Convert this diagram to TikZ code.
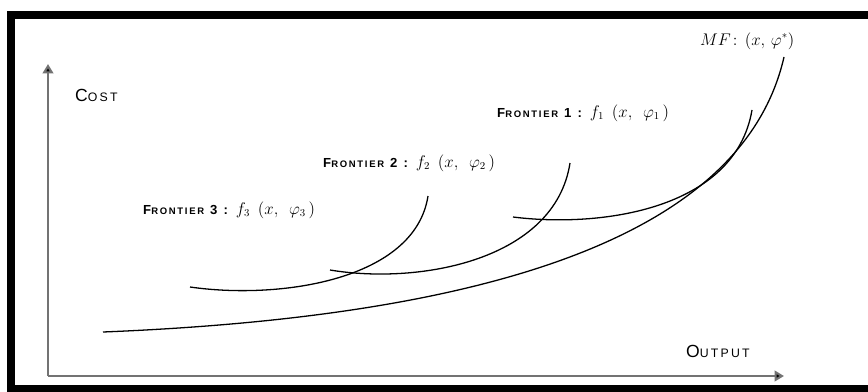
\documentclass[tikz,border=0pt]{standalone}
\usepackage{amsmath, amssymb}
\usepackage{fontspec}
\newfontfamily\capfont[LetterSpace=18]{Liberation Sans}
\usepackage{tikz}
\usetikzlibrary{arrows.meta, positioning, calc}

% fake small caps: first letter full size, rest smaller
\newcommand\bigsc[2]{{\fontsize{15}{17}\selectfont #1\fontsize{10.5}{12}\selectfont #2}}
\newcommand\smallsc[2]{{\fontsize{11.2}{13}\selectfont #1\fontsize{8.1}{9}\selectfont #2}}
\newcommand\eqn[1]{{\fontsize{13.5}{15}\selectfont $#1$}}

\tikzset{
  axis/.style={draw=black!55, line width=1.8pt, -{Triangle[length=8pt,width=9pt,fill=black]}},
  frontier/.style={line width=1.1pt},
  lbl/.style={anchor=base west, inner sep=0pt, font=\capfont\fontsize{10.7}{12}\selectfont},
  flbl/.style={lbl, font=\capfont\bfseries\fontsize{11.2}{13}\selectfont},
}

\begin{document}
\begin{tikzpicture}[x=0.03cm, y=-0.03cm]
  \useasboundingbox (0,0) rectangle (868,392);
  \clip (0,0) rectangle (868,392);
  % outer frame
  \draw[line width=6.8pt] (11,15) rectangle (900,389);

  % axes
  \coordinate (origin) at (48,376);
  \coordinate (ytop) at (48,64);
  \coordinate (xend) at (784,376);
  \draw[axis] (origin) -- (ytop);
  \draw[axis] (origin) -- (xend);
  \node[lbl] (cost) at (75,101) {\bigsc{C}{OST}};
  \node[lbl] (output) at (686,357) {\bigsc{O}{UTPUT}};

  % frontiers
  \draw[frontier] (103,332) .. controls (450,318) and (740,250) .. (784,57);
  \draw[frontier] (513,217) .. controls (600,228) and (735,210) .. (752,110);
  \draw[frontier] (330,270) .. controls (420,285) and (555,260) .. (570,163);
  \draw[frontier] (190,287) .. controls (280,300) and (415,280) .. (428,196);

  \node[lbl] (mf) at (700,45) {\eqn{MF\!:\,(x,\,\varphi^{*})}};
  \node[flbl] (f1) at (497,117) {\smallsc{F}{RONTIER} 1 : \eqn{f_{1}\enspace(x,\enspace\varphi_{1}\,)}};
  \node[flbl] (f2) at (323,167) {\smallsc{F}{RONTIER} 2 : \eqn{f_{2}\enspace(x,\enspace\varphi_{2}\,)}};
  \node[flbl] (f3) at (143,214) {\smallsc{F}{RONTIER} 3 : \eqn{f_{3}\enspace(x,\enspace\varphi_{3}\,)}};
\end{tikzpicture}
\end{document}
